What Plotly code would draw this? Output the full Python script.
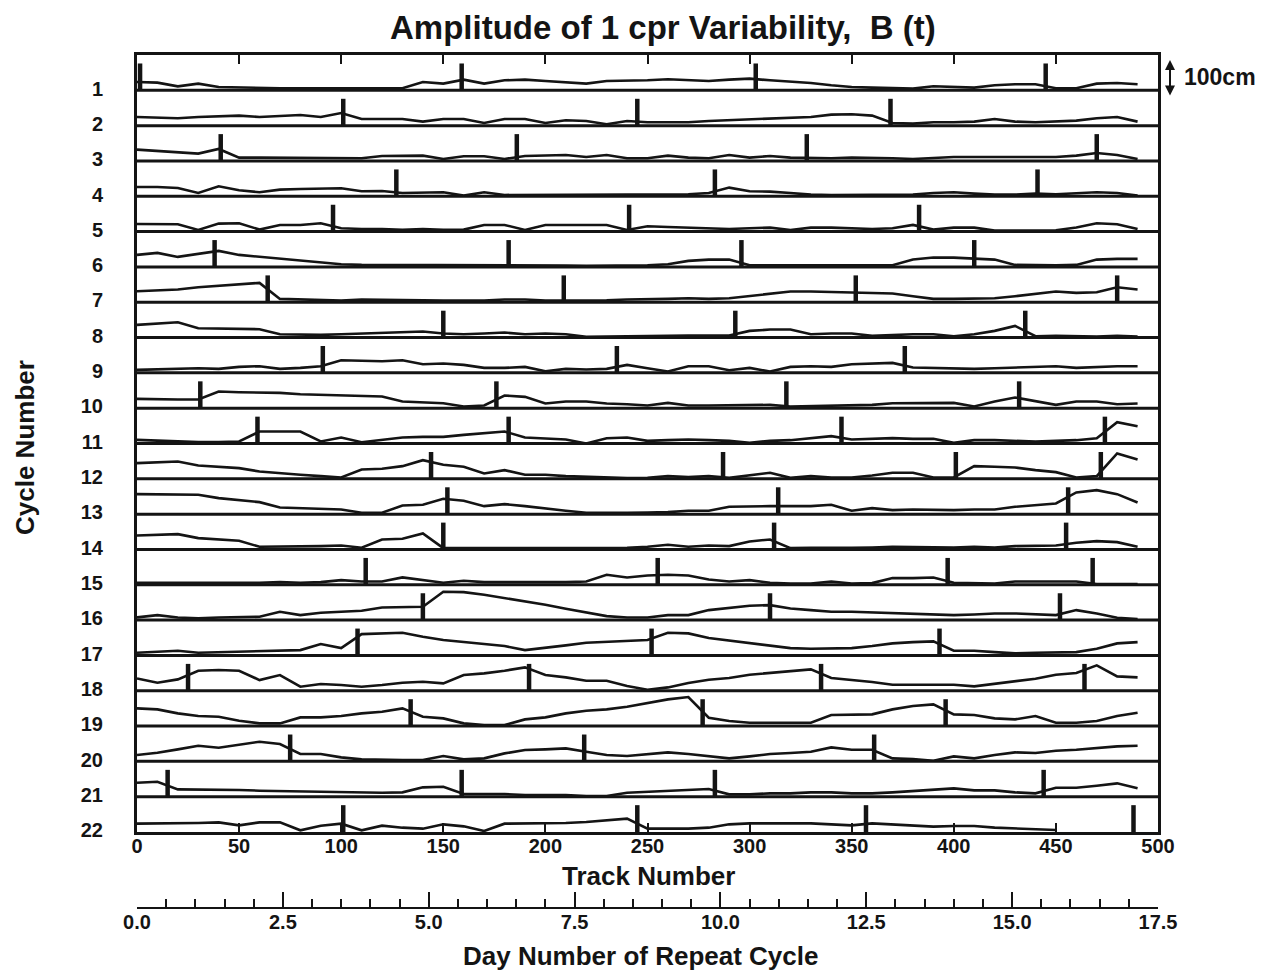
import plotly.graph_objects as go

TRACKS = list(range(0, 500, 10))
CYCLES = list(range(1, 23))

# amplitude of 1 cpr variability (cm above each strip's baseline), sampled every 10 tracks
C01 = [25,23,12,20,10,8,8,6,6,6, 6,8,8,6,25,20,32,20,30,32, 28,25,20,28,28, 30,33,30,28,32, 35,30,27,22,15,10,8,6,5,12, 10,8,15,18,18,6,6,20,22,18]
C02 = [26,25,22,26,28,30,26,28,32,26, 38,20,20,20,12,20,20,8,20,20, 8,16,14,4,14,10,10,10,14,16, 18,22,24,26,33,34,30,8,6,10, 10,12,20,12,10,12,15,22,26,12]
C03 = [34,30,25,22,36,10,10,10,8,10, 10,8,15,16,16,6,14,14,6,15, 16,18,12,18,8,8,16,10,8,18, 10,15,10,8,8,10,10,8,6,10, 12,12,12,12,12,12,16,24,18,6]
C04 = [28,28,25,10,30,18,12,20,22,22, 24,15,16,10,10,12,2,12,4,4, 4,4,5,5,4,5,5,6,10,26, 15,14,10,5,4,4,4,5,5,10, 12,8,5,5,8,6,10,12,10,2]
C05 = [23,22,22,5,24,25,6,20,20,25, 10,8,8,5,8,5,6,20,20,5, 20,20,20,20,5,16,14,12,10,8, 10,12,5,12,12,10,8,10,20,6, 12,12,3,3,4,4,12,25,22,8]
C06 = [36,42,30,40,48,36,30,25,18,12, 8,6,6,5,5,5,5,5,5,4, 4,4,3,3,3,5,8,18,22,22, 5,5,4,4,5,5,6,5,22,28, 28,25,22,6,5,5,6,22,24,24]
C07 = [33,35,38,45,50,55,58,10,8,6, 5,8,8,6,6,5,5,5,8,8, 5,5,5,6,8,8,10,12,10,12, 18,26,32,32,30,30,28,26,18,10, 10,10,12,18,25,32,28,30,45,38]
C08 = [38,42,46,28,27,26,25,10,8,8, 10,12,15,18,18,12,10,12,15,10, 12,10,2,3,3,5,5,6,5,6, 20,24,24,10,12,12,5,8,10,10, 4,10,20,35,4,5,4,3,5,3]
C09 = [9,10,12,14,12,18,20,12,15,20, 38,36,35,38,26,28,24,15,15,18, 5,12,10,12,24,14,4,20,20,8, 15,4,18,20,18,26,28,30,16,14, 12,12,14,16,18,20,15,18,20,20]
C10 = [28,26,26,26,50,48,48,46,42,40, 40,36,35,20,18,15,5,8,38,34, 14,20,20,14,12,8,16,8,8,8, 8,10,5,6,8,8,10,15,16,16, 16,5,20,32,22,10,20,20,12,14]
C11 = [11,8,5,4,4,6,36,36,36,6, 18,4,10,18,20,20,26,32,36,18, 16,12,0,16,18,8,10,12,10,8, 2,8,10,16,22,12,14,16,14,14, 2,10,10,8,6,8,10,16,64,52]
C12 = [47,50,52,40,36,32,22,16,12,8, 4,28,30,38,56,42,36,16,26,12, 12,8,6,4,2,3,8,5,8,3, 10,18,3,8,4,4,10,18,18,4, 4,38,36,34,26,20,4,8,76,58]
C13 = [60,60,60,58,48,42,36,20,18,16, 14,4,4,26,28,46,40,24,30,24, 16,10,4,3,4,5,6,10,10,22, 24,24,24,24,28,10,18,12,14,12, 12,14,14,22,28,32,65,72,60,35]
C14 = [42,44,46,34,30,26,8,8,8,10, 12,5,30,32,48,4,4,4,4,5, 5,5,4,4,5,8,14,8,12,10, 24,30,4,5,4,5,6,8,7,6, 6,8,6,10,10,12,20,25,22,8]
C15 = [6,6,6,6,4,5,6,8,6,8, 14,10,10,22,14,6,12,8,8,8, 6,8,10,30,22,28,30,28,16,10, 14,6,4,4,10,4,5,20,20,22, 6,5,4,10,10,10,10,2,2,2]
C16 = [8,15,8,5,8,10,10,25,15,22, 25,28,38,40,40,85,84,76,66,58, 46,34,22,12,8,8,15,15,30,37, 43,45,35,30,25,25,23,20,20,17, 15,17,20,20,17,15,30,20,7,3]
C17 = [8,10,14,8,10,12,14,14,16,34, 22,64,66,68,56,46,40,34,28,16, 22,30,38,40,44,46,68,66,52,44, 38,30,22,20,20,22,28,36,40,42, 14,14,10,6,8,8,10,20,36,40]
C18 = [37,24,34,60,62,60,32,47,12,20, 17,12,17,24,27,22,47,52,60,70, 47,40,30,30,14,3,10,23,33,38, 48,53,58,64,38,33,26,18,18,20, 18,13,20,28,36,48,53,76,43,40]
C19 = [53,50,38,30,28,16,8,8,26,26, 30,38,43,53,28,23,8,3,3,20, 26,38,46,50,58,68,80,87,25,15, 10,10,10,10,33,35,35,50,60,65, 35,33,23,20,30,10,10,15,30,40]
C20 = [19,26,36,47,41,49,59,52,22,22, 12,6,4,4,4,16,6,9,24,34, 36,39,29,19,16,22,27,22,15,9, 15,22,25,29,42,35,35,9,7,2, 15,9,19,27,25,32,35,40,45,47]
C21 = [42,45,22,22,20,20,18,17,15,14, 13,12,12,13,28,30,8,8,8,5, 5,5,2,2,12,15,17,20,23,7, 7,10,10,13,13,10,10,13,17,20, 25,19,19,13,10,27,27,33,40,25]
C22 = [25,25,26,27,29,20,29,29,5,19, 25,5,19,13,10,23,17,3,25,25, 25,27,30,35,40,10,10,10,13,23, 26,26,26,26,23,20,26,23,20,16, 18,18,13,10,8,6,None,None,None,None]

AMPLITUDE = [C01, C02, C03, C04, C05, C06, C07, C08, C09, C10, C11,
             C12, C13, C14, C15, C16, C17, C18, C19, C20, C21, C22]

# track numbers of the vertical marker bars in each cycle
BAR_TRACKS = [
    [1.5, 159, 303, 445], [101, 245, 369], [41, 186, 328, 470], [127, 283, 441],
    [96, 241, 383], [38, 182, 296, 410], [64, 209, 352, 480], [150, 293, 435],
    [91, 235, 376], [31, 176, 318, 432], [59, 182, 345, 474], [144, 287, 401, 472],
    [152, 314, 456], [150, 312, 455], [112, 255, 397, 468], [140, 310, 452],
    [108, 252, 393], [25, 192, 335, 464], [134, 277, 396], [75, 219, 361],
    [15, 159, 283, 444], [101, 245, 357, 488],
]

TRACK_TICKS = list(range(0, 501, 50))
DAY_TICKS = [0.0, 2.5, 5.0, 7.5, 10.0, 12.5, 15.0, 17.5]

CM_PER_STRIP = 106.0
BAR_HEIGHT = 0.76
N = len(CYCLES)
INK = "#141414"
FONT = "Liberation Sans"

fig = go.Figure()

for cyc, vals in zip(CYCLES, AMPLITUDE):
    assert len(vals) == len(TRACKS)
    base = N - cyc
    ys = [None if v is None else base + v / CM_PER_STRIP for v in vals]
    fig.add_trace(go.Scatter(x=TRACKS, y=ys, mode="lines",
                             line=dict(color=INK, width=2.6),
                             connectgaps=False, showlegend=False, hoverinfo="skip",
                             xaxis="x", yaxis="y"))

bx, by = [], []
for cyc, bars in zip(CYCLES, BAR_TRACKS):
    base = N - cyc
    for b in bars:
        bx += [b, b, None]
        by += [base, base + BAR_HEIGHT, None]
fig.add_trace(go.Scatter(x=bx, y=by, mode="lines", line=dict(color=INK, width=4.5),
                         showlegend=False, hoverinfo="skip", xaxis="x", yaxis="y"))

# invisible trace for the day axis subplot
fig.add_trace(go.Scatter(x=[0, 17.5], y=[0, 0], mode="markers", marker=dict(opacity=0),
                         showlegend=False, hoverinfo="skip", xaxis="x2", yaxis="y2"))

shapes = []
for k in range(1, N):
    shapes.append(dict(type="line", xref="x domain", yref="y", x0=0, x1=1, y0=k, y1=k,
                       line=dict(color=INK, width=3)))

top_px, bot_px, H = 55, 912, 971
left_px, right_px = 137, 1158
def py(Y):
    return (bot_px - Y) / (bot_px - top_px)
def px(X):
    return (X - left_px) / (right_px - left_px)

main_bottom = py(832)
day_line = py(907)

annotations = [
    dict(text="Amplitude of 1 cpr Variability,  B (t)", x=px(663), y=py(27),
         xref="paper", yref="paper", showarrow=False, xanchor="center", yanchor="middle",
         font=dict(family=FONT, size=33, color=INK, weight="bold")),
    dict(text="Track Number", x=px(648), y=py(876), xref="paper", yref="paper",
         showarrow=False, xanchor="center", yanchor="middle",
         font=dict(family=FONT, size=26, color=INK, weight="bold")),
    dict(text="Day Number of Repeat Cycle", x=px(640), y=py(956), xref="paper", yref="paper",
         showarrow=False, xanchor="center", yanchor="middle",
         font=dict(family=FONT, size=26, color=INK, weight="bold")),
    dict(text="Cycle Number", x=px(25), y=py(448), xref="paper", yref="paper",
         showarrow=False, xanchor="center", yanchor="middle", textangle=-90,
         font=dict(family=FONT, size=26, color=INK, weight="bold")),
    dict(text="100cm", x=px(1182), y=py(77), xref="paper", yref="paper",
         showarrow=False, xanchor="left", yanchor="middle",
         font=dict(family=FONT, size=23, color=INK, weight="bold")),
    dict(text="", x=px(1170), y=py(60), xref="paper", yref="paper",
         showarrow=True, ax=0, ay=37, axref="pixel", ayref="pixel",
         arrowhead=2, arrowside="end+start", arrowsize=1, arrowwidth=2, arrowcolor=INK),
]

fig.update_layout(
    width=1271, height=H,
    margin=dict(l=left_px, r=1271 - right_px, t=top_px, b=H - bot_px),
    paper_bgcolor="white", plot_bgcolor="white",
    shapes=shapes, annotations=annotations,
    xaxis=dict(range=[0, 500], tickvals=TRACK_TICKS, ticks="inside", ticklen=9,
               tickwidth=2, tickcolor=INK, showline=True, linewidth=3, linecolor=INK,
               mirror="ticks", showgrid=False, zeroline=False, ticklabelstandoff=-6,
               tickfont=dict(family=FONT, size=20, color=INK, weight="bold"),
               anchor="y"),
    yaxis=dict(range=[0, N], domain=[main_bottom, 1],
               tickvals=[N - c + 0.05 for c in CYCLES], ticktext=[str(c) for c in CYCLES],
               ticks="", showline=True, linewidth=3, linecolor=INK, mirror=True,
               showgrid=False, zeroline=False, ticklabelstandoff=27,
               tickfont=dict(family=FONT, size=20, color=INK, weight="bold"),
               anchor="x"),
    xaxis2=dict(range=[0, 17.5], tickvals=DAY_TICKS, tickformat=".1f",
                ticks="inside", ticklen=15, tickwidth=2, tickcolor=INK,
                minor=dict(dtick=0.5, tick0=0, ticks="inside", ticklen=8, tickwidth=1.8,
                           tickcolor=INK, showgrid=False),
                showline=True, linewidth=2.2, linecolor=INK, showgrid=False, zeroline=False,
                ticklabelstandoff=-4,
                tickfont=dict(family=FONT, size=20, color=INK, weight="bold"),
                anchor="y2"),
    yaxis2=dict(domain=[day_line, day_line + 0.002], range=[0, 1], visible=False,
                anchor="x2"),
)

fig.write_html("out.html")
